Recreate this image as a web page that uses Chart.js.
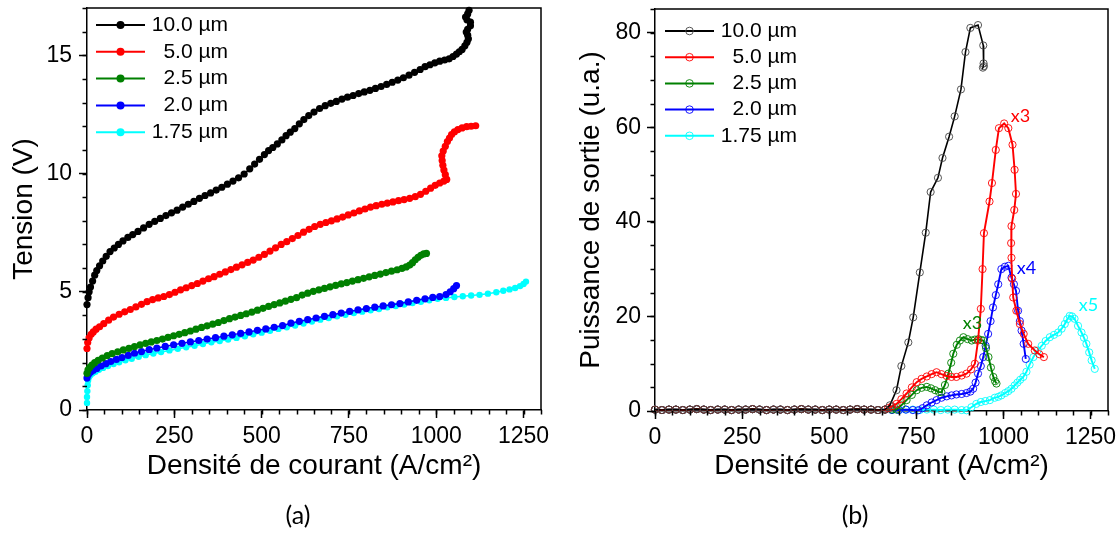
<!DOCTYPE html>
<html>
<head>
<meta charset="utf-8">
<script src="https://cdn.jsdelivr.net/npm/chart.js@4.4.1/dist/chart.umd.min.js"></script>
<style>
  html, body { margin: 0; padding: 0; background: #fff; }
  #wrap { position: relative; width: 1120px; height: 533px; }
  #chartTension { position: absolute; left: 0; top: 0; }
  #chartPuissance { position: absolute; left: 560px; top: 0; }
</style>
</head>
<body>
<div id="wrap">
  <canvas id="chartTension" width="560" height="533"></canvas>
  <canvas id="chartPuissance" width="560" height="533"></canvas>
</div>
<script>
// labels and ticks
var seriesLabels = ['10.0 µm', '5.0 µm', '2.5 µm', '2.0 µm', '1.75 µm']
var seriesColors = ['#000000', '#ff0000', '#008000', '#0000ff', '#00ffff']
var xTicks = [0, 250, 500, 750, 1000, 1250]
var yTicksTension = [0, 5, 10, 15]
var yTicksPuissance = [0, 20, 40, 60, 80]

// (a) tension vs current density
var jBlackA = [0,3,6,10,16,22,28,36,45,55,66,78,90,103,117,131,146,162,178,194,210,226,242,258,274,290,306,322,338,354,370,386,402,418,434,450,466,480,494,508,520,532,545,558,570,582,595,608,621,635,650,666,682,698,714,730,746,762,778,794,810,826,842,858,874,890,906,922,938,954,968,982,996,1010,1024,1037,1048,1058,1066,1074,1082,1088,1092,1090,1086,1090,1098,1098,1088,1084,1090,1094]
var vBlackA = [4.46,4.75,5.0,5.2,5.45,5.7,5.9,6.1,6.3,6.5,6.7,6.85,7.0,7.15,7.3,7.42,7.55,7.7,7.85,7.98,8.1,8.22,8.34,8.45,8.58,8.7,8.82,8.95,9.07,9.18,9.3,9.42,9.55,9.68,9.82,9.98,10.2,10.4,10.6,10.8,10.97,11.1,11.25,11.42,11.6,11.75,11.9,12.1,12.28,12.45,12.6,12.75,12.87,12.97,13.05,13.15,13.23,13.3,13.38,13.45,13.52,13.6,13.68,13.77,13.86,13.95,14.05,14.16,14.28,14.4,14.52,14.6,14.68,14.75,14.8,14.85,14.95,15.05,15.15,15.25,15.4,15.55,15.7,15.85,15.98,16.1,16.25,16.4,16.5,16.62,16.75,16.9]
var jRedA = [0,2,6,12,18,26,36,48,62,76,92,108,124,140,156,172,188,204,220,236,252,268,284,300,316,332,348,364,380,396,412,428,444,460,476,492,508,524,540,556,572,588,604,620,636,652,668,684,700,716,732,748,764,780,796,812,828,844,860,876,892,908,924,940,955,970,984,997,1010,1022,1030,1026,1022,1019,1017,1016,1020,1026,1032,1038,1044,1052,1062,1074,1087,1100,1113]
var vRedA = [2.6,2.85,3.05,3.2,3.3,3.42,3.52,3.65,3.8,3.93,4.05,4.15,4.25,4.36,4.47,4.58,4.67,4.74,4.8,4.88,4.98,5.08,5.17,5.26,5.35,5.45,5.55,5.64,5.74,5.84,5.94,6.04,6.14,6.24,6.34,6.46,6.58,6.72,6.86,7.0,7.12,7.25,7.38,7.52,7.64,7.76,7.85,7.93,8.0,8.08,8.16,8.25,8.33,8.42,8.5,8.58,8.64,8.7,8.75,8.8,8.85,8.9,8.95,9.02,9.12,9.25,9.38,9.5,9.6,9.68,9.75,9.95,10.15,10.35,10.55,10.75,10.95,11.15,11.35,11.5,11.65,11.76,11.86,11.93,11.98,12.0,12.02]
var jGreenA = [0,3,8,14,22,32,44,58,72,88,104,120,136,152,168,184,200,216,232,248,264,280,296,312,328,344,360,376,392,408,424,440,456,472,488,504,520,536,552,568,584,600,616,632,648,664,680,696,712,728,744,760,776,792,808,824,840,856,872,888,902,914,924,932,940,948,956,964,972]
var vGreenA = [1.55,1.7,1.8,1.9,2.0,2.1,2.2,2.3,2.38,2.46,2.54,2.61,2.68,2.75,2.82,2.88,2.94,3.0,3.07,3.14,3.2,3.27,3.34,3.42,3.49,3.56,3.63,3.7,3.78,3.86,3.93,4.0,4.07,4.14,4.22,4.3,4.38,4.46,4.53,4.6,4.68,4.75,4.86,4.94,5.02,5.08,5.14,5.21,5.27,5.33,5.39,5.45,5.51,5.57,5.63,5.69,5.75,5.81,5.87,5.93,5.99,6.05,6.13,6.23,6.35,6.46,6.54,6.6,6.62]
var jBlueA = [0,4,10,18,28,40,54,68,84,100,118,136,156,178,200,224,248,272,296,320,344,368,392,416,440,464,488,512,536,560,584,608,632,656,680,704,728,752,776,800,824,848,872,896,920,944,968,990,1010,1028,1040,1050,1058]
var vBlueA = [1.35,1.5,1.6,1.68,1.76,1.86,1.96,2.05,2.14,2.22,2.31,2.4,2.47,2.55,2.62,2.69,2.76,2.82,2.88,2.94,3.0,3.06,3.12,3.18,3.24,3.3,3.37,3.43,3.5,3.57,3.67,3.75,3.82,3.89,3.96,4.03,4.1,4.17,4.23,4.29,4.35,4.4,4.45,4.5,4.57,4.64,4.7,4.76,4.8,4.88,5.0,5.13,5.26]
var jCyanA = [0,0,1,2,3,6,10,16,24,34,46,60,76,92,110,128,148,168,190,212,236,260,284,308,332,356,380,404,428,452,476,500,524,548,572,596,620,644,668,692,716,740,764,788,812,836,860,884,908,932,956,980,1004,1028,1052,1076,1100,1124,1148,1172,1192,1210,1226,1240,1250,1257]
var vCyanA = [0.3,0.55,0.8,1.05,1.25,1.4,1.48,1.55,1.62,1.7,1.78,1.86,1.94,2.02,2.1,2.17,2.25,2.32,2.39,2.45,2.52,2.59,2.65,2.72,2.79,2.86,2.92,2.98,3.05,3.12,3.2,3.27,3.35,3.43,3.5,3.57,3.66,3.74,3.82,3.89,3.96,4.03,4.1,4.16,4.22,4.27,4.34,4.4,4.46,4.52,4.58,4.64,4.7,4.74,4.78,4.81,4.84,4.87,4.92,4.98,5.04,5.1,5.16,5.24,5.33,5.43]

// (b) output power, common flat part below threshold
var jFlat = [0,20,40,60,80,100,120,140,160,180,200,220,240,260,280,300,320,340,360,380,400,420,440,460,480,500,520,540,560,580,600,620,640]
var pFlat = [0.3,0.2,0.3,0.3,0.2,0.3,0.4,0.3,0.2,0.3,0.3,0.2,0.3,0.3,0.4,0.3,0.2,0.3,0.3,0.2,0.3,0.4,0.3,0.3,0.2,0.3,0.3,0.2,0.3,0.4,0.3,0.3,0.2]
var jBlackB = [660,674,693,707,727,741,760,777,791,812,825,844,860,878,891,905,927,942,943,941,944]
var pBlackB = [0.3,1.2,4.4,9.5,14.5,19.8,29.3,37.7,46.3,49.3,53.5,58.0,62.3,68.0,75.9,81.0,81.6,77.3,73.5,72.6,72.9]
var jRedB = [660,669,680,693,707,722,737,751,765,780,794,808,822,837,851,865,880,894,907,918,927,935,940,944,960,967,978,987,1002,1014,1026,1032,1036,1031,1023,1022,1023,1025,1028,1037,1047,1058,1071,1090,1103,1116]
var pRedB = [0.3,0.6,1.0,1.5,2.5,3.7,5.0,6.1,6.8,7.3,7.8,8.2,7.8,7.4,7.2,7.2,7.5,7.9,8.8,10.0,14.9,21.6,30.0,37.6,44.3,48.2,55.2,59.8,60.8,59.8,56.3,51.0,45.9,42.5,39.1,35.5,32.4,28.0,24.0,21.2,18.4,16.3,14.2,12.8,12.0,11.4]
var jGreenB = [660,680,693,707,722,737,751,765,780,792,804,815,822,832,842,850,856,866,875,885,897,909,918,928,936,942,950,957,964,971,976,980]
var pGreenB = [0.3,0.3,0.3,1.2,2.3,3.4,4.4,4.9,5.1,4.8,4.4,4.0,4.0,5.5,7.9,10.2,12.1,14.0,14.9,15.6,15.2,14.9,15.1,15.2,15.0,14.9,13.3,11.4,9.2,7.2,6.3,5.8]
var jBlueB = [660,680,700,720,740,755,768,780,794,808,822,837,851,865,880,894,905,913,920,927,935,942,949,956,963,970,978,985,994,1004,1014,1023,1030,1036,1042,1047,1052,1058,1064]
var pBlueB = [0.3,0.2,0.2,0.3,0.2,0.15,0.6,1.2,1.8,2.3,2.8,3.1,3.3,3.5,3.6,3.8,4.1,4.7,6.0,7.9,9.5,11.4,13.8,16.3,19.0,21.9,24.5,26.8,30.0,30.5,30.7,28.2,26.8,25.4,21.2,19.0,17.0,14.2,11.0]
var jCyanB = [660,680,700,720,740,760,780,800,820,840,860,880,894,908,922,935,948,961,975,985,994,1005,1014,1023,1032,1040,1048,1057,1066,1075,1086,1098,1110,1121,1133,1145,1157,1167,1176,1183,1190,1197,1204,1214,1224,1231,1238,1246,1253,1262]
var pCyanB = [0.3,0.3,0.2,0.3,0.3,0.2,0.3,0.3,0.2,0.3,0.3,0.2,0.15,0.8,1.5,1.9,2.1,2.3,2.8,3.0,3.3,3.8,4.2,4.7,5.4,6.0,6.6,7.2,8.3,9.8,11.4,12.8,13.8,14.8,15.6,16.1,16.6,17.4,18.4,19.4,20.1,20.0,19.5,18.0,16.6,15.5,14.2,12.4,10.7,8.9]

// scale factors written next to the peaks
var noteTexts = ['x3', 'x3', 'x4', 'x5']
var noteSeries = [1, 2, 3, 4]

var fontFamily = "'Liberation Sans', Arial, sans-serif"
Chart.defaults.font.family = fontFamily
Chart.defaults.color = '#000'

function pts(js, vs) {
  return js.map(function (j, i) { return { x: j, y: vs[i] } })
}

// box top and right sides
var boxFrame = {
  id: 'boxFrame',
  afterDatasetsDraw: function (chart) {
    var ctx = chart.ctx, a = chart.chartArea
    ctx.save()
    ctx.strokeStyle = '#000'
    ctx.lineWidth = 1.5
    ctx.beginPath()
    ctx.moveTo(a.left, a.top)
    ctx.lineTo(a.right, a.top)
    ctx.lineTo(a.right, a.bottom)
    ctx.stroke()
    ctx.restore()
  }
}

// short outward ticks between the labelled ones
var minorTicks = {
  id: 'minorTicks',
  afterDraw: function (chart, args, o) {
    var ctx = chart.ctx, a = chart.chartArea, x = chart.scales.x, y = chart.scales.y
    ctx.save()
    ctx.strokeStyle = '#000'
    ctx.lineWidth = 1.5
    ctx.beginPath()
    for (var v = x.min; v <= x.max; v += o.x) {
      var px = Math.round(x.getPixelForValue(v)) + 0.5
      ctx.moveTo(px, a.bottom)
      ctx.lineTo(px, a.bottom + o.len)
    }
    for (var w = y.min; w <= y.max; w += o.y) {
      var py = Math.round(y.getPixelForValue(w)) + 0.5
      ctx.moveTo(a.left, py)
      ctx.lineTo(a.left - o.len, py)
    }
    ctx.stroke()
    ctx.restore()
  }
}

// legend drawn inside the plot
var innerLegend = {
  id: 'innerLegend',
  afterDraw: function (chart, args, o) {
    var ctx = chart.ctx
    ctx.save()
    ctx.font = o.size + 'px ' + fontFamily
    ctx.textAlign = 'right'
    ctx.textBaseline = 'middle'
    chart.data.datasets.forEach(function (ds, i) {
      var y = o.top + i * o.row
      var cx = o.left + o.len / 2
      ctx.strokeStyle = ds.borderColor
      ctx.lineWidth = 2
      ctx.beginPath()
      ctx.moveTo(o.left, y)
      ctx.lineTo(o.left + o.len, y)
      ctx.stroke()
      ctx.beginPath()
      ctx.arc(cx, y, o.r, 0, Math.PI * 2)
      if (o.filled) {
        ctx.fillStyle = ds.borderColor
        ctx.fill()
      } else {
        ctx.strokeStyle = ds.pointBorderColor
        ctx.lineWidth = 0.9
        ctx.stroke()
      }
      ctx.fillStyle = '#000'
      ctx.fillText(ds.label, o.textRight, y)
    })
    ctx.restore()
  }
}

// panel letter under each chart
var panelLetter = {
  id: 'panelLetter',
  afterDraw: function (chart, args, o) {
    var ctx = chart.ctx
    ctx.save()
    ctx.font = '25px Lato, sans-serif'
    ctx.fillStyle = '#000'
    ctx.textAlign = 'center'
    ctx.textBaseline = 'middle'
    ctx.fillText(o.text, o.x, o.y)
    ctx.restore()
  }
}

// x3 / x4 / x5 notes, placed in data units
var peakNotes = {
  id: 'peakNotes',
  afterDatasetsDraw: function (chart, args, o) {
    var ctx = chart.ctx, x = chart.scales.x, y = chart.scales.y
    ctx.save()
    ctx.font = '18px Lato, sans-serif'
    ctx.textAlign = 'left'
    ctx.textBaseline = 'middle'
    noteTexts.forEach(function (t, i) {
      ctx.fillStyle = chart.data.datasets[noteSeries[i]].borderColor
      ctx.fillText(t, x.getPixelForValue(o.at[i][0]), y.getPixelForValue(o.at[i][1]))
    })
    ctx.restore()
  }
}

function plainTick(v) {
  return String(v)
}

function xScale(height) {
  return {
    type: 'linear', min: 0, max: 1300,
    afterBuildTicks: function (s) { s.ticks = xTicks.map(function (v) { return { value: v } }) },
    afterFit: function (s) { s.height = height; s.paddingLeft = 0; s.paddingRight = 0 },
    grid: { drawOnChartArea: false, tickLength: 8, tickWidth: 1.5, tickColor: '#000' },
    border: { color: '#000', width: 1.5 },
    ticks: { padding: 5, maxRotation: 0, font: { size: 23 }, color: '#000', callback: plainTick },
    title: { display: true, text: 'Densité de courant (A/cm²)', font: { size: 28 }, padding: { top: 0, bottom: 50 } }
  }
}

function yScale(width, max, tickList, label, pad, labelPad) {
  return {
    type: 'linear', min: 0, max: max,
    afterBuildTicks: function (s) { s.ticks = tickList.map(function (v) { return { value: v } }) },
    afterFit: function (s) { s.width = width; s.paddingTop = 0; s.paddingBottom = 0 },
    grid: { drawOnChartArea: false, tickLength: 8, tickWidth: 1.5, tickColor: '#000' },
    border: { color: '#000', width: 1.5 },
    ticks: { padding: labelPad, font: { size: 23 }, color: '#000', callback: plainTick },
    title: { display: true, text: label, font: { size: 28 }, padding: { top: pad, bottom: 0 } }
  }
}

// (a)
var tensionData = [pts(jBlackA, vBlackA), pts(jRedA, vRedA), pts(jGreenA, vGreenA), pts(jBlueA, vBlueA), pts(jCyanA, vCyanA)]
new Chart(document.getElementById('chartTension').getContext('2d'), {
  type: 'line',
  data: {
    datasets: tensionData.map(function (d, i) {
      return {
        label: seriesLabels[i], data: d,
        borderColor: seriesColors[i], backgroundColor: seriesColors[i],
        pointBackgroundColor: seriesColors[i], pointBorderColor: seriesColors[i],
        borderWidth: 1.5, pointRadius: i === 4 ? 3.2 : 3.6, pointBorderWidth: 0,
        clip: false
      }
    })
  },
  options: {
    responsive: false, animation: false,
    layout: { padding: { top: 8, right: 19, left: 0, bottom: 0 } },
    scales: {
      x: xScale(123),
      y: yScale(87, 17, yTicksTension, 'Tension (V)', 7, 7)
    },
    plugins: {
      legend: { display: false },
      tooltip: { enabled: false },
      minorTicks: { x: 50, y: 1, len: 4.5 },
      innerLegend: { left: 96, len: 49, top: 25, row: 26.8, r: 4, textRight: 228, size: 21, filled: true },
      panelLetter: { text: '(a)', x: 298, y: 516 }
    }
  },
  plugins: [boxFrame, minorTicks, innerLegend, panelLetter]
})

// (b)
var puissanceData = [
  pts(jFlat.concat(jBlackB), pFlat.concat(pBlackB)),
  pts(jFlat.concat(jRedB), pFlat.concat(pRedB)),
  pts(jFlat.concat(jGreenB), pFlat.concat(pGreenB)),
  pts(jFlat.concat(jBlueB), pFlat.concat(pBlueB)),
  pts(jFlat.concat(jCyanB), pFlat.concat(pCyanB))
]
new Chart(document.getElementById('chartPuissance').getContext('2d'), {
  type: 'line',
  data: {
    datasets: puissanceData.map(function (d, i) {
      return {
        label: seriesLabels[i], data: d,
        borderColor: seriesColors[i], backgroundColor: 'rgba(0,0,0,0)',
        pointBackgroundColor: 'rgba(0,0,0,0)', pointBorderColor: i === 0 ? '#444' : seriesColors[i],
        borderWidth: i === 0 ? 1.6 : 1.9, pointRadius: 3.6, pointBorderWidth: 0.9,
        clip: false
      }
    })
  },
  options: {
    responsive: false, animation: false,
    layout: { padding: { top: 9, right: 12, left: 0, bottom: 0 } },
    scales: {
      x: xScale(122),
      y: yScale(95, 85, yTicksPuissance, 'Puissance de sortie (u.a.)', 14, 6)
    },
    plugins: {
      legend: { display: false },
      tooltip: { enabled: false },
      minorTicks: { x: 50, y: 5, len: 4.5 },
      innerLegend: { left: 105, len: 49, top: 31, row: 26.2, r: 3.8, textRight: 237, size: 21, filled: false },
      panelLetter: { text: '(b)', x: 295, y: 516 },
      peakNotes: { at: [[1021, 62.3], [883, 18.5], [1038, 30.3], [1216, 22.3]] }
    }
  },
  plugins: [boxFrame, minorTicks, innerLegend, panelLetter, peakNotes]
})
</script>
</body>
</html>
